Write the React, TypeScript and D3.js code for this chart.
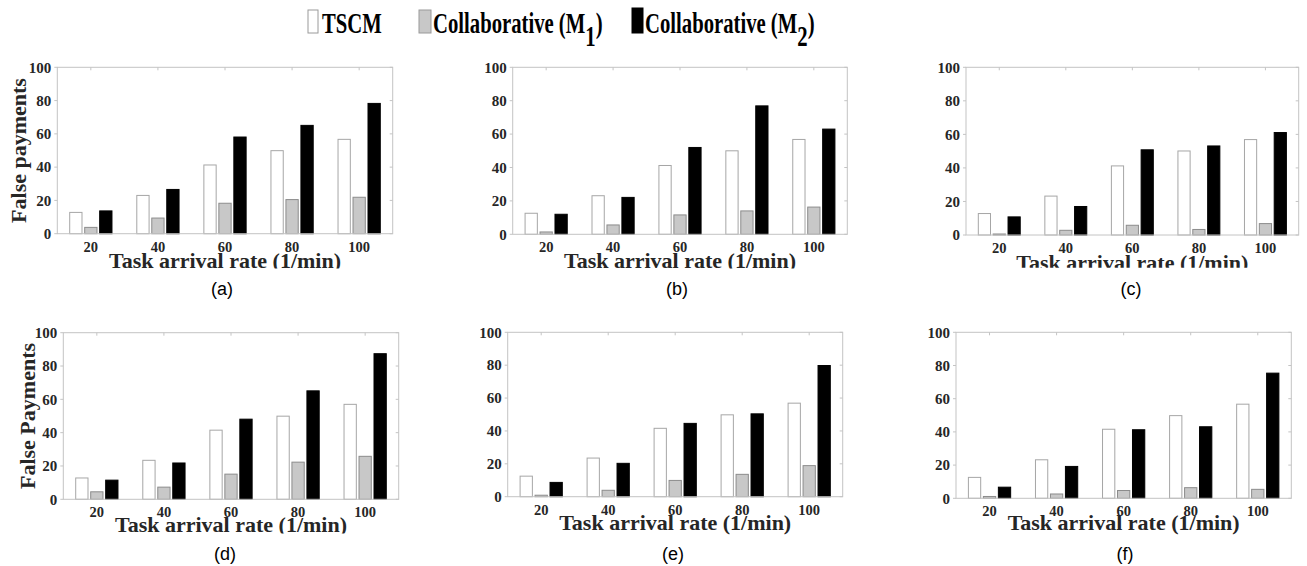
import React from "react";
import * as d3 from "d3";

// ---------- data ----------
const categories = ["20", "40", "60", "80", "100"];
const seriesNames = ["TSCM", "Collaborative (M1)", "Collaborative (M2)"];
const yTicks = [0, 20, 40, 60, 80, 100];
const panelLetters = ["a", "b", "c", "d", "e", "f"];

const tscmA = [12.8, 23.0, 41.3, 49.9, 56.7];
const m1A = [3.8, 9.4, 18.3, 20.5, 21.9];
const m2A = [13.7, 26.6, 58.1, 65.1, 78.3];

const tscmB = [12.6, 23.1, 41.2, 50.0, 56.8];
const m1B = [1.4, 5.6, 11.6, 14.0, 16.3];
const m2B = [12.0, 22.1, 52.0, 76.9, 63.0];

const tscmC = [12.8, 23.2, 41.2, 50.1, 56.9];
const m1C = [0.6, 2.8, 5.8, 3.3, 6.8];
const m2C = [10.8, 17.0, 50.8, 53.1, 61.1];

const tscmD = [12.8, 23.4, 41.5, 49.9, 57.0];
const m1D = [4.5, 7.3, 15.1, 22.3, 25.8];
const m2D = [11.5, 21.8, 48.1, 65.1, 87.4];

const tscmE = [12.5, 23.5, 41.6, 49.8, 56.9];
const m1E = [0.9, 3.9, 9.9, 13.6, 18.9];
const m2E = [8.7, 20.3, 44.6, 50.4, 79.8];

const tscmF = [12.6, 23.2, 41.6, 49.8, 56.7];
const m1F = [1.1, 2.6, 4.7, 6.4, 5.4];
const m2F = [6.7, 19.2, 41.3, 43.1, 75.4];

const panelSeries = [
  [tscmA, m1A, m2A],
  [tscmB, m1B, m2B],
  [tscmC, m1C, m2C],
  [tscmD, m1D, m2D],
  [tscmE, m1E, m2E],
  [tscmF, m1F, m2F],
];
const yLabels = ["False payments", "", "", "False Payments", "", ""];
const xLabelText = "Task arrival rate (1/min)";

// ---------- layout ----------
const W = 1307;
const H = 566;
const layouts = [
  { L: 57.3, T: 67.3, R: 392.7, B: 233.7, xlBase: 268, xlClip: 268.6, capX: 222, capY: 295 },
  { L: 512.7, T: 67.3, R: 847.3, B: 234.3, xlBase: 268, xlClip: 268.6, capX: 677, capY: 295 },
  { L: 966, T: 67.3, R: 1298.7, B: 235, xlBase: 269.5, xlClip: 267.8, capX: 1131, capY: 295 },
  { L: 63.3, T: 332.7, R: 398.7, B: 499.3, xlBase: 532, xlClip: 533.4, capX: 225, capY: 560 },
  { L: 507.7, T: 332.3, R: 842.7, B: 496.7, xlBase: 530, xlClip: 545, capX: 673, capY: 560 },
  { L: 956, T: 332.3, R: 1291.3, B: 498.3, xlBase: 530, xlClip: 545, capX: 1125, capY: 560 },
];
const yLabelX = [26, 0, 0, 35, 0, 0];

const fills = ["#ffffff", "#c8c8c8", "#000000"];
const strokes = ["#a6a6a6", "#8c8c8c", "#000000"];
const serif = "'Liberation Serif', 'Times New Roman', serif";
const sans = "'Liberation Sans', Arial, sans-serif";
const textCol = "#262626";
const axisCol = "#c4c4c4";

function Panel({ idx }: { idx: number }) {
  const lay = layouts[idx];
  const data = panelSeries[idx];
  const x0 = d3.scaleBand<string>().domain(categories).range([lay.L, lay.R]).padding(0);
  const groupW = x0.bandwidth() * 0.63;
  const x1 = d3
    .scaleBand<string>()
    .domain(seriesNames)
    .range([0, groupW])
    .paddingInner(0.18)
    .paddingOuter(0);
  const off = (x0.bandwidth() - groupW) / 2;
  const y = d3.scaleLinear().domain([0, 100]).range([lay.B, lay.T]);
  const clipId = `xlclip-${idx}`;
  const midX = (lay.L + lay.R) / 2;
  const midY = (lay.T + lay.B) / 2;
  return (
    <g>
      <defs>
        <clipPath id={clipId}>
          <rect x={0} y={lay.B} width={W} height={lay.xlClip - lay.B} />
        </clipPath>
      </defs>
      {/* bars */}
      {categories.map((c, ci) =>
        seriesNames.map((s, si) => {
          const v = data[si][ci];
          const bx = (x0(c) as number) + off + (x1(s) as number);
          return (
            <rect
              key={`${c}-${s}`}
              x={bx}
              y={y(v)}
              width={x1.bandwidth()}
              height={lay.B - y(v)}
              fill={fills[si]}
              stroke={strokes[si]}
              strokeWidth={1}
            />
          );
        })
      )}
      {/* axis box */}
      <rect
        x={lay.L}
        y={lay.T}
        width={lay.R - lay.L}
        height={lay.B - lay.T}
        fill="none"
        stroke={axisCol}
        strokeWidth={1}
      />
      {/* ticks */}
      {yTicks.map((t) => (
        <g key={`yt${t}`}>
          <line x1={lay.L - 3} x2={lay.L} y1={y(t)} y2={y(t)} stroke={axisCol} />
          <line x1={lay.R - 3} x2={lay.R} y1={y(t)} y2={y(t)} stroke={axisCol} />
          <text
            x={lay.L - 6}
            y={y(t)}
            dy="0.35em"
            textAnchor="end"
            fontFamily={serif}
            fontWeight="bold"
            fontSize={15}
            fill={textCol}
          >
            {t}
          </text>
        </g>
      ))}
      {categories.map((c) => {
        const cx = (x0(c) as number) + x0.bandwidth() / 2;
        return (
          <g key={`xt${c}`}>
            <line x1={cx} x2={cx} y1={lay.T} y2={lay.T + 3} stroke={axisCol} />
            <text
              x={cx}
              y={lay.B + 18}
              textAnchor="middle"
              fontFamily={serif}
              fontWeight="bold"
              fontSize={14.5}
              fill={textCol}
            >
              {c}
            </text>
          </g>
        );
      })}
      {/* x label */}
      <text
        x={midX}
        y={lay.xlBase}
        textAnchor="middle"
        fontFamily={serif}
        fontWeight="bold"
        fontSize={22}
        fill={textCol}
        clipPath={`url(#${clipId})`}
      >
        {xLabelText}
      </text>
      {/* y label */}
      {yLabels[idx] && (
        <text
          transform={`translate(${yLabelX[idx]},${midY}) rotate(-90)`}
          textAnchor="middle"
          fontFamily={serif}
          fontWeight="bold"
          fontSize={22}
          fill={textCol}
        >
          {yLabels[idx]}
        </text>
      )}
      {/* caption */}
      <text
        x={lay.capX}
        y={lay.capY}
        textAnchor="middle"
        fontFamily={sans}
        fontSize={18}
        fill="#000"
      >
        {`(${panelLetters[idx]})`}
      </text>
    </g>
  );
}

const legendItems = [
  { box: 308, bw: 10, text: 322, main: "TSCM", sub: "", top: 10 },
  { box: 419, bw: 12, text: 433, main: "Collaborative (M", sub: "1", top: 10 },
  { box: 632, bw: 11, text: 645, main: "Collaborative (M", sub: "2", top: 8 },
];

function Legend() {
  return (
    <g>
      {legendItems.map((it, i) => (
        <g key={i}>
          <rect
            x={it.box}
            y={it.top}
            width={it.bw}
            height={33 - it.top}
            fill={fills[i]}
            stroke={i === 2 ? "#000" : "#9a9a9a"}
            strokeWidth={1}
          />
          <g transform={`translate(${it.text},33) scale(0.69,1)`}>
            <text x={0} y={0} fontFamily={serif} fontWeight="bold" fontSize={30} fill="#000">
              {it.main}
              {it.sub && (
                <>
                  <tspan dy={13}>{it.sub}</tspan>
                  <tspan dy={-13}>)</tspan>
                </>
              )}
            </text>
          </g>
        </g>
      ))}
    </g>
  );
}

export default function App() {
  return (
    <div style={{ position: "absolute", left: 0, top: 0, width: W, height: H, background: "#fff" }}>
      <svg width={W} height={H} viewBox={`0 0 ${W} ${H}`}>
        <rect x={0} y={0} width={W} height={H} fill="#fff" />
        <Legend />
        {layouts.map((_, i) => (
          <Panel key={i} idx={i} />
        ))}
      </svg>
    </div>
  );
}
